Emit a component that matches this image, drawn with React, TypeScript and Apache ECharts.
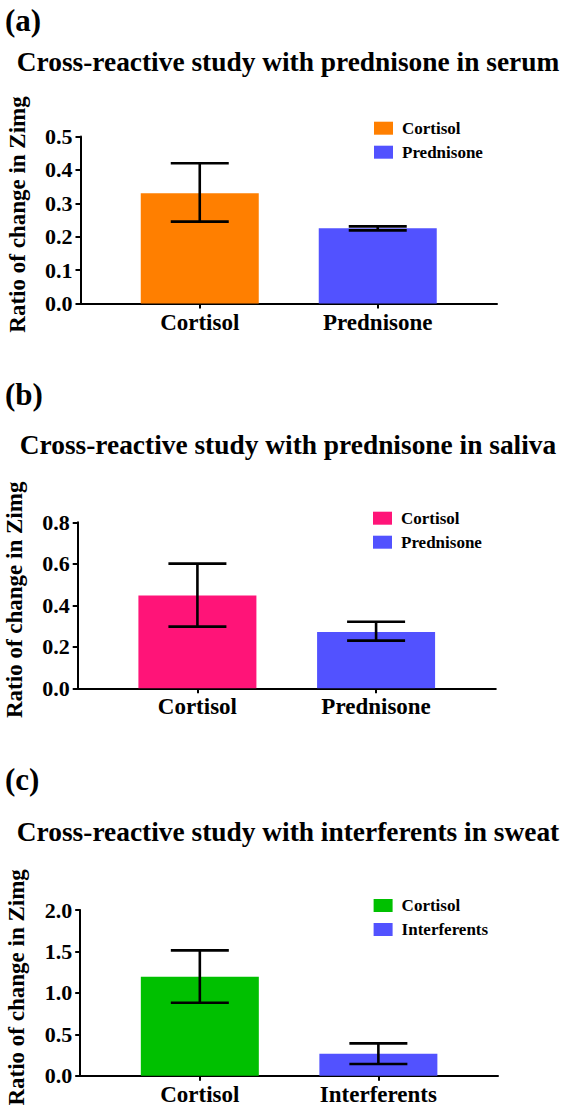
import React, { useEffect, useRef } from 'react';
import * as echarts from 'echarts';

// ---------- data ----------
const catsA = ['Cortisol', 'Prednisone'];
const meanA = [0.33, 0.225];
const upperA = [0.42, 0.231];
const lowerA = [0.245, 0.219];

const catsB = ['Cortisol', 'Prednisone'];
const meanB = [0.447, 0.271];
const upperB = [0.601, 0.321];
const lowerB = [0.297, 0.23];

const catsC = ['Cortisol', 'Interferents'];
const meanC = [1.195, 0.266];
const upperC = [1.513, 0.39];
const lowerC = [0.881, 0.141];

const titles = [
  'Cross-reactive study with prednisone in serum',
  'Cross-reactive study with prednisone in saliva',
  'Cross-reactive study with interferents in sweat',
];
const tags = ['(a)', '(b)', '(c)'];
const yMaxes = [0.5, 0.8, 2.0];
const ySteps = [0.1, 0.2, 0.5];
const yName = 'Ratio of change in Zimg';

// ---------- styling / layout ----------
const FONT = 'Liberation Serif';
const colorsA = ['#FF7F00', '#5252FF'];
const colorsB = ['#FF1478', '#5252FF'];
const colorsC = ['#00C000', '#5252FF'];

const grids = [
  { left: 80.5, top: 136.5, width: 416.5, height: 167 },
  { left: 77.7, top: 522.3, width: 418.1, height: 166 },
  { left: 80.2, top: 910, width: 417.8, height: 165.7 },
];
const legendPos = [
  { left: 369, top: 114.7 },
  { left: 368, top: 504.7 },
  { left: 368.6, top: 892 },
];
const titleY = [61.7, 445, 831.7];
const tagY = [20, 394, 779];

const txt = (size: number) => ({
  color: '#000',
  fontFamily: FONT,
  fontWeight: 'bold' as const,
  fontSize: size,
});

export default function App() {
  const ref = useRef<HTMLDivElement>(null);

  useEffect(() => {
    document.body.style.margin = '0';
    const chart = echarts.init(ref.current!, null, { renderer: 'svg' });

    const panels = [
      { cats: catsA, mean: meanA, up: upperA, lo: lowerA, colors: colorsA },
      { cats: catsB, mean: meanB, up: upperB, lo: lowerB, colors: colorsB },
      { cats: catsC, mean: meanC, up: upperC, lo: lowerC, colors: colorsC },
    ];

    const xAxis: any[] = [];
    const yAxis: any[] = [];
    const series: any[] = [];
    const legend: any[] = [];
    const graphic: any[] = [];

    panels.forEach((p, i) => {
      const cats = p.cats;
      xAxis.push({
        type: 'value',
        gridIndex: i,
        min: -0.67,
        max: 1.67,
        splitLine: { show: false },
        axisLine: { show: true, onZero: false, lineStyle: { color: '#000', width: 2 } },
        axisTick: { show: true, customValues: [0, 1], length: 5, lineStyle: { color: '#000', width: 2 } },
        axisLabel: {
          customValues: [0, 1],
          formatter: (v: number) => cats[Math.round(v)] ?? '',
          margin: 7,
          ...txt(23),
        },
      });
      yAxis.push({
        type: 'value',
        gridIndex: i,
        min: 0,
        max: yMaxes[i],
        interval: ySteps[i],
        splitLine: { show: false },
        axisLine: { show: true, onZero: false, lineStyle: { color: '#000', width: 2 } },
        axisTick: { show: true, length: 5, lineStyle: { color: '#000', width: 2 } },
        axisLabel: {
          formatter: (v: number) => v.toFixed(1),
          margin: 8,
          ...txt(22),
        },
        name: yName,
        nameLocation: 'middle',
        nameGap: 52,
        nameTextStyle: {
          ...txt(23),
          padding: [0, 0, 0, 11],
        },
      });

      const names = cats.map((c) => c + '@' + i);
      cats.forEach((c, k) => {
        series.push({
          type: 'bar',
          name: names[k],
          xAxisIndex: i,
          yAxisIndex: i,
          barWidth: 118,
          barGap: '-100%',
          data: [[k, p.mean[k]]],
          itemStyle: { color: p.colors[k] },
          z: 2,
        });
      });
      series.push({
        type: 'custom',
        xAxisIndex: i,
        yAxisIndex: i,
        z: 5,
        data: cats.map((_, k) => [k, p.lo[k], p.up[k]]),
        renderItem: (params: any, api: any) => {
          const x = api.value(0);
          const top = api.coord([x, api.value(2)]);
          const bot = api.coord([x, api.value(1)]);
          const hw = 29;
          const st = { stroke: '#000', lineWidth: 2.6 };
          return {
            type: 'group',
            children: [
              { type: 'line', shape: { x1: top[0], y1: top[1], x2: bot[0], y2: bot[1] }, style: st },
              { type: 'line', shape: { x1: top[0] - hw, y1: top[1], x2: top[0] + hw, y2: top[1] }, style: st },
              { type: 'line', shape: { x1: bot[0] - hw, y1: bot[1], x2: bot[0] + hw, y2: bot[1] }, style: st },
            ],
          };
        },
      });

      legend.push({
        data: names,
        orient: 'vertical',
        left: legendPos[i].left,
        top: legendPos[i].top,
        itemWidth: 19,
        itemHeight: 13,
        itemGap: 7,
        selectedMode: false,
        icon: 'rect',
        formatter: (n: string) => n.split('@')[0],
        textStyle: {
          ...txt(17),
          lineHeight: 17,
          padding: [0, 0, 0, 4],
        },
      });

      graphic.push({
        type: 'text',
        x: 288,
        y: titleY[i],
        style: {
          text: titles[i],
          fill: '#000',
          font: `bold 27.4px ${FONT}`,
          textAlign: 'center',
          textVerticalAlign: 'middle',
        },
      });
      graphic.push({
        type: 'text',
        x: 5,
        y: tagY[i],
        style: {
          text: tags[i],
          fill: '#000',
          font: `bold 31px ${FONT}`,
          textAlign: 'left',
          textVerticalAlign: 'middle',
        },
      });
    });

    chart.setOption({
      animation: false,
      backgroundColor: '#fff',
      grid: grids.map((g) => ({ ...g, containLabel: false, outerBoundsMode: 'none' })),
      xAxis,
      yAxis,
      series,
      legend,
      graphic,
    });

    return () => chart.dispose();
  }, []);

  return <div ref={ref} style={{ width: 566, height: 1109 }} />;
}
